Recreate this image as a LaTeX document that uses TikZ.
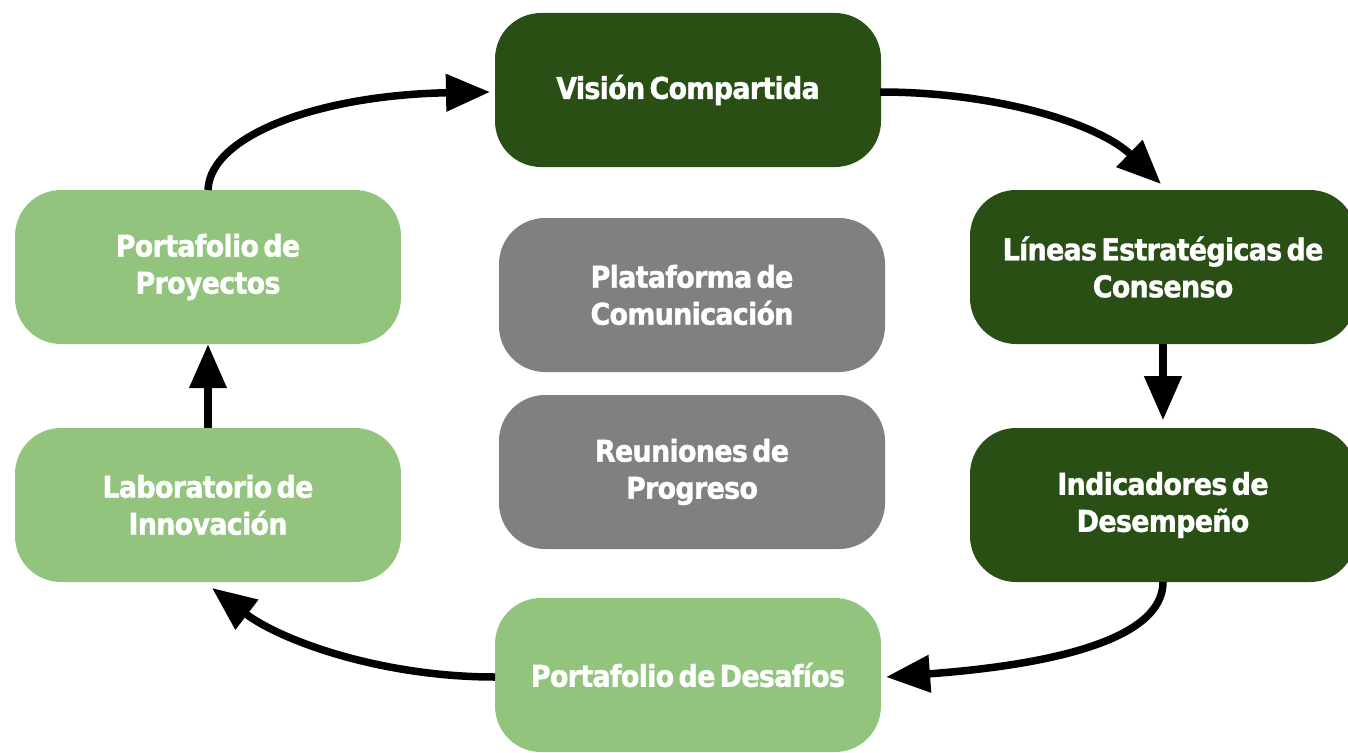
\documentclass[tikz,border=0pt]{standalone}
\usepackage{fontspec}
\setmainfont[WordSpace=0.5,LetterSpace=-2.5,BoldFeatures={FakeBold=1.2}]{DejaVu Sans Condensed}
\usetikzlibrary{arrows.meta}
\definecolor{darkg}{HTML}{294F15}
\definecolor{lightg}{HTML}{93C47D}
\definecolor{grayb}{HTML}{808080}
\tikzset{
  box/.style={rectangle, rounded corners=46pt, minimum width=386pt, minimum height=154pt,
    text=white, font=\bfseries\fontsize{30}{37}\selectfont, align=center, inner sep=0pt},
  dbox/.style={box, fill=darkg},
  lbox/.style={box, fill=lightg},
  gbox/.style={box, fill=grayb},
  conn/.style={line width=7.5pt, -{Triangle[length=44pt,width=36pt]}}
}
\begin{document}
\begin{tikzpicture}[x=1pt,y=-1pt]
\useasboundingbox (0,0) rectangle (1348,752);
\clip (0,0) rectangle (1348,752);
\node[dbox] (vc) at (688,90) {Visión Compartida};
\node[dbox] (le) at (1163,267) {Líneas Estratégicas de\\Consenso};
\node[dbox] (id) at (1163,505) {Indicadores de\\Desempeño};
\node[lbox] (pd) at (688,675) {Portafolio de Desafíos};
\node[lbox] (li) at (208,505) {Laboratorio de\\Innovación};
\node[lbox] (pp) at (208,267) {Portafolio de\\Proyectos};
\node[gbox] (pc) at (692,295) {Plataforma de\\Comunicación};
\node[gbox] (rp) at (692,472) {Reuniones de\\Progreso};
\coordinate (a1s) at (208,190);
\coordinate (a1e) at (490,92);
\coordinate (a2s) at (880,92);
\coordinate (a2e) at (1161,184);
\coordinate (a4s) at (1163,582);
\coordinate (a4e) at (886,677);
\coordinate (a5s) at (495,677);
\coordinate (a5e) at (212,588);
\draw[conn] (a1s) .. controls (210,135) and (320,95) .. (a1e);
\draw[conn] (a2s) .. controls (1000,92) and (1100,125) .. (a2e);
\draw[conn] (le.south) -- ++(0,76);
\draw[conn] (a4s) .. controls (1163,640) and (1050,665) .. (a4e);
\draw[conn] (a5s) .. controls (380,677) and (280,640) .. (a5e);
\draw[conn] (li.north) -- (pp.south);
\end{tikzpicture}
\end{document}
